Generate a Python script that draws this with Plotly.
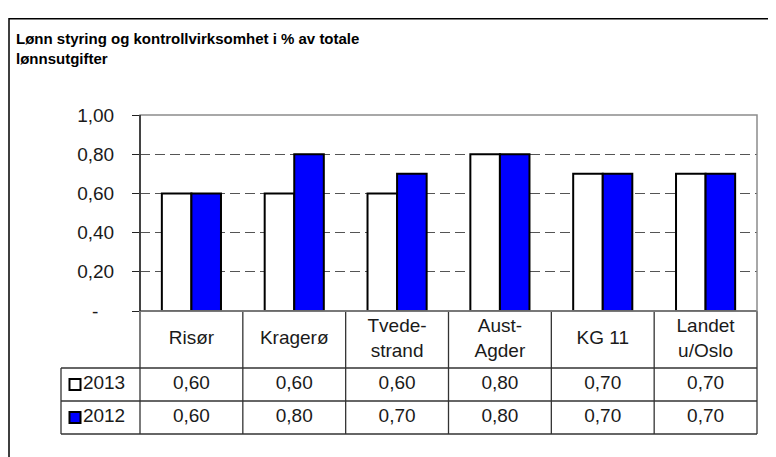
import plotly.graph_objects as go

# ---------------- data ----------------
categories = ["Risør", "Kragerø", "Tvedestrand", "Aust-Agder", "KG 11", "Landet u/Oslo"]
header_labels = ["Risør", "Kragerø", "Tvede-<br>strand", "Aust-<br>Agder", "KG 11", "Landet<br>u/Oslo"]
series_names = ["2013", "2012"]
values_2013 = [0.60, 0.60, 0.60, 0.80, 0.70, 0.70]
values_2012 = [0.60, 0.80, 0.70, 0.80, 0.70, 0.70]
y_tick_values = [0.0, 0.2, 0.4, 0.6, 0.8, 1.0]
title_text = "Lønn styring og kontrollvirksomhet i % av totale<br>lønnsutgifter"

# ---------------- layout helpers ----------------
W, H = 776, 457
# observed placement of the rendered figure inside the page window
OX, OY, FW, FH = 8, 17, 776, 436
FONT = "Liberation Sans, Arial, sans-serif"
TXT = "#1a1a1a"


def fx(p):
    return (p - OX) / FW


def fy(p):
    return 1 - (p - OY) / FH


def fmt(v):
    return f"{v:.2f}".replace(".", ",")


tick_text = [("-\u00a0\u00a0\u00a0" if v == 0 else fmt(v)) for v in y_tick_values]

PL, PR, PT, PB = 140, 757, 114, 310
n = len(categories)
unit = (PR - PL) / n
LEG_W = 79
ROW_H = 33
HEAD_H = 57
TB = PB + HEAD_H + 2 * ROW_H


def tx(p):
    return -0.5 + (p - PL) / unit


def ty(p):
    return (TB - p) / ROW_H


fig = go.Figure()

fig.add_trace(go.Bar(
    x=categories, y=values_2013, name=series_names[0],
    marker=dict(color="white", line=dict(color="black", width=2)),
    xaxis="x", yaxis="y", showlegend=False, hoverinfo="skip",
))
fig.add_trace(go.Bar(
    x=categories, y=values_2012, name=series_names[1],
    marker=dict(color="#0000FF", line=dict(color="black", width=2)),
    xaxis="x", yaxis="y", showlegend=False, hoverinfo="skip",
))

idx = list(range(n))
head_y = 2 + HEAD_H / ROW_H / 2
fig.add_trace(go.Scatter(
    x=idx, y=[head_y] * n, mode="text", text=header_labels,
    textfont=dict(size=19, color=TXT, family=FONT),
    xaxis="x2", yaxis="y2", showlegend=False, hoverinfo="skip", cliponaxis=False,
))
fig.add_trace(go.Scatter(
    x=idx, y=[1.5] * n, mode="text", text=[fmt(v) for v in values_2013],
    textfont=dict(size=19, color=TXT, family=FONT),
    xaxis="x2", yaxis="y2", showlegend=False, hoverinfo="skip", cliponaxis=False,
))
fig.add_trace(go.Scatter(
    x=idx, y=[0.5] * n, mode="text", text=[fmt(v) for v in values_2012],
    textfont=dict(size=19, color=TXT, family=FONT),
    xaxis="x2", yaxis="y2", showlegend=False, hoverinfo="skip", cliponaxis=False,
))
leg_x = tx(75)
fig.add_trace(go.Scatter(
    x=[leg_x, leg_x], y=[1.5, 0.5], mode="markers+text", text=series_names,
    textposition="middle right",
    marker=dict(symbol="square", size=11, color=["white", "#0000FF"],
                line=dict(color="black", width=2)),
    textfont=dict(size=19, color=TXT, family=FONT),
    xaxis="x2", yaxis="y2", showlegend=False, hoverinfo="skip", cliponaxis=False,
))

shapes = []
LC = "#333333"
LW = 1.3
x_left = tx(PL - LEG_W)
x_plot_l = tx(PL)
x_plot_r = tx(PR)
head_top = 2 + HEAD_H / ROW_H
for yy in [0, 1, 2]:
    shapes.append(dict(type="line", xref="x2", yref="y2", x0=x_left, x1=x_plot_r,
                       y0=yy, y1=yy, line=dict(color=LC, width=LW)))
shapes.append(dict(type="line", xref="x2", yref="y2", x0=x_plot_l, x1=x_plot_r,
                   y0=head_top, y1=head_top, line=dict(color="black", width=1.5)))
shapes.append(dict(type="line", xref="x2", yref="y2", x0=x_left, x1=x_left,
                   y0=0, y1=2, line=dict(color=LC, width=LW)))
for k in range(n + 1):
    xx = -0.5 + k
    shapes.append(dict(type="line", xref="x2", yref="y2", x0=xx, x1=xx,
                       y0=0, y1=head_top, line=dict(color=LC, width=LW)))

shapes.append(dict(type="rect", xref="x domain", yref="y domain", x0=0, x1=1, y0=0, y1=1,
                   line=dict(color="#8c8c8c", width=1.5), layer="above"))
shapes.append(dict(type="line", xref="x domain", yref="y domain", x0=0, x1=0, y0=0, y1=1,
                   line=dict(color="#222222", width=1.5), layer="above"))
# outer chart border (left and top edges; it continues beyond the window)
shapes.append(dict(type="rect", xref="paper", yref="paper", x0=fx(9), x1=1.05,
                   y0=-0.05, y1=fy(17.8), line=dict(color="black", width=1.5)))

fig.update_layout(
    width=W, height=H,
    margin=dict(l=0, r=0, t=0, b=0),
    paper_bgcolor="white", plot_bgcolor="rgba(0,0,0,0)",
    barmode="group", bargap=0.425, bargroupgap=0,
    showlegend=False,
    shapes=shapes,
    xaxis=dict(domain=[fx(PL), fx(PR)], anchor="y", type="category",
               categoryorder="array", categoryarray=categories,
               range=[-0.5, n - 0.5], showticklabels=False, ticks="",
               showline=False, showgrid=False, zeroline=False, fixedrange=True),
    yaxis=dict(domain=[fy(PB), fy(PT)], anchor="x", range=[0, 1.0],
               tickmode="array", tickvals=y_tick_values, ticktext=tick_text,
               ticks="outside", ticklen=7, tickwidth=1.3, tickcolor="#222222",
               ticklabelstandoff=14,
               tickfont=dict(size=19, color=TXT, family=FONT),
               showline=False, showgrid=True, gridcolor="#555555", gridwidth=1.3,
               griddash="10px,5px", zeroline=False, fixedrange=True),
    xaxis2=dict(domain=[fx(56), fx(762)], anchor="y2", range=[tx(56), tx(762)],
                visible=False, fixedrange=True),
    yaxis2=dict(domain=[fy(438), fy(305)], anchor="x2", range=[ty(438), ty(305)],
                visible=False, fixedrange=True),
    annotations=[dict(
        text=title_text, xref="paper", yref="paper", x=fx(14), y=fy(26.5),
        xanchor="left", yanchor="top", align="left", showarrow=False,
        font=dict(size=15, color="black", family=FONT, weight="bold"),
    )],
)

fig.write_html("out.html")
